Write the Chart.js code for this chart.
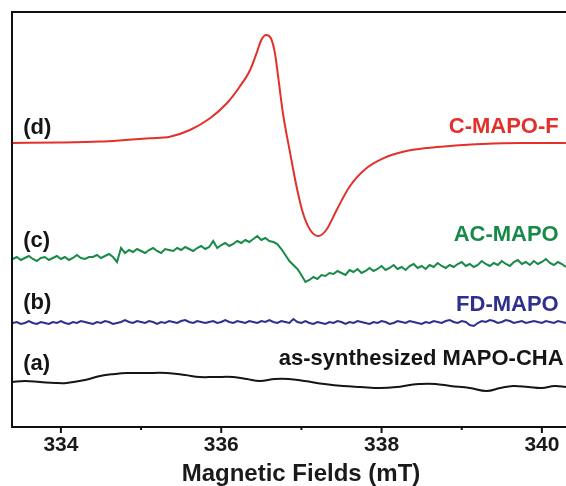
<!DOCTYPE html>
<html lang="en">
<head>
<meta charset="UTF-8">
<title>EPR spectra</title>
<script src="https://cdn.jsdelivr.net/npm/chart.js"></script>
<style>
  html, body { margin: 0; padding: 0; background: #fff; overflow: hidden; }
  canvas { display: block; }
</style>
</head>
<body>
<canvas id="epr" width="590" height="489" style="width:590px;height:489px"></canvas>
<script>
// field sweep (mT) shared by the two noisy spectra
const FIELD_MT = [
  333.40, 333.45, 333.50, 333.55, 333.60, 333.65, 333.70, 333.75, 333.80, 333.85,
  333.90, 333.95, 334.00, 334.05, 334.10, 334.15, 334.20, 334.25, 334.30, 334.35,
  334.40, 334.45, 334.50, 334.55, 334.60, 334.65, 334.70, 334.75, 334.80, 334.85,
  334.90, 334.95, 335.00, 335.05, 335.10, 335.15, 335.20, 335.25, 335.30, 335.35,
  335.40, 335.45, 335.50, 335.55, 335.60, 335.65, 335.70, 335.75, 335.80, 335.85,
  335.90, 335.95, 336.00, 336.05, 336.10, 336.15, 336.20, 336.25, 336.30, 336.35,
  336.40, 336.45, 336.50, 336.55, 336.60, 336.65, 336.70, 336.75, 336.80, 336.85,
  336.90, 336.95, 337.00, 337.05, 337.10, 337.15, 337.20, 337.25, 337.30, 337.35,
  337.40, 337.45, 337.50, 337.55, 337.60, 337.65, 337.70, 337.75, 337.80, 337.85,
  337.90, 337.95, 338.00, 338.05, 338.10, 338.15, 338.20, 338.25, 338.30, 338.35,
  338.40, 338.45, 338.50, 338.55, 338.60, 338.65, 338.70, 338.75, 338.80, 338.85,
  338.90, 338.95, 339.00, 339.05, 339.10, 339.15, 339.20, 339.25, 339.30, 339.35,
  339.40, 339.45, 339.50, 339.55, 339.60, 339.65, 339.70, 339.75, 339.80, 339.85,
  339.90, 339.95, 340.00, 340.05, 340.10, 340.15, 340.20, 340.25, 340.30
];

// (c) AC-MAPO, offset intensity (a.u.)
const AC_MAPO = [
  168, 170, 167, 169, 171, 168, 166, 169, 170, 167,
  169, 171, 168, 170, 167, 169, 172, 169, 168, 170,
  170, 172, 169, 171, 173, 170, 165, 179, 174, 177,
  175, 178, 176, 174, 177, 179, 176, 174, 178, 177,
  176, 179, 177, 180, 178, 176, 179, 181, 178, 180,
  186, 179, 182, 184, 181, 183, 186, 184, 187, 185,
  188, 191, 187, 189, 186, 185, 183, 178, 172, 166,
  162, 158, 152, 145, 147, 150, 148, 152, 151, 154,
  153, 156, 154, 152, 157, 155, 158, 154, 156, 159,
  156, 158, 161, 157, 159, 162, 158, 160, 157, 161,
  163, 159, 161, 158, 162, 160, 164, 161, 159, 162,
  160, 163, 165, 161, 163, 160, 162, 166, 163, 161,
  164, 162, 166, 163, 161, 165, 167, 163, 165, 162,
  166, 163, 165, 168, 164, 162, 165, 163, 160
];

// (b) FD-MAPO
const FD_MAPO = [
  104, 105, 103, 104, 106, 104, 103, 105, 104, 103,
  105, 104, 106, 104, 103, 105, 104, 106, 105, 104,
  103, 105, 104, 106, 105, 103, 104, 105, 107, 105,
  104, 106, 105, 104, 106, 105, 103, 105, 104, 106,
  105, 104, 106, 107, 105, 104, 106, 105, 104, 105,
  106, 104, 105, 107, 105, 104, 106, 105, 104, 106,
  105, 104, 106, 105, 107, 105, 104, 106, 105, 104,
  108, 105, 104, 106, 104, 103, 105, 104, 103, 105,
  104, 106, 105, 103, 105, 104, 106, 105, 104, 103,
  105, 104, 106, 105, 103, 104, 106, 105, 104, 106,
  105, 104, 103, 105, 104, 106, 105, 104, 106, 107,
  105, 104, 106, 105, 102, 101, 104, 106, 105, 107,
  106, 104, 105, 107, 106, 104, 105, 106, 104, 105,
  106, 105, 104, 106, 105, 104, 106, 105, 104
];

// (d) C-MAPO-F
const C_MAPO_F_FIELD = [
  333.39, 333.99, 334.49, 334.80, 335.11, 335.36, 335.61, 335.86, 336.07, 336.23,
  336.36, 336.44, 336.50, 336.56, 336.62, 336.67, 336.71, 336.77, 336.86, 336.94,
  337.02, 337.11, 337.21, 337.31, 337.44, 337.60, 337.81, 338.02, 338.27, 338.60,
  338.85, 339.26, 339.73, 340.30
];
const C_MAPO_F = [
  284, 284.5, 285.5, 287, 288.7, 290.3, 297, 308.7, 323.7, 340.3,
  357, 373.7, 387, 392, 388.7, 373.7, 350.3, 313.7, 273.7, 240.3,
  213.7, 197, 191, 197, 217, 240.3, 258.7, 268.7, 275.3, 279.3,
  281, 283, 284, 284
];

// (a) as-synthesized MAPO-CHA
const AS_SYN_FIELD = [
  333.39, 333.55, 333.74, 333.93, 334.07, 334.30, 334.49, 334.67, 334.82, 335.05,
  335.32, 335.55, 335.73, 335.92, 336.15, 336.32, 336.48, 336.67, 336.84, 337.04,
  337.29, 337.52, 337.74, 337.98, 338.19, 338.35, 338.47, 338.67, 338.86, 339.10,
  339.31, 339.48, 339.64, 339.83, 340.00, 340.16, 340.30
];
const AS_SYN = [
  45, 46, 45, 44, 44, 47, 51, 53, 54, 54,
  54, 52, 50, 50, 50, 48, 46, 48, 48, 46,
  43, 41, 40, 39, 40, 42, 43, 43, 41, 39,
  36, 39, 41, 40, 39, 41, 40
];

const FIELD_TICKS = [334, 335, 336, 337, 338, 339, 340];
const SAMPLE_TAGS = ['(a)', '(b)', '(c)', '(d)'];
const SAMPLE_NAMES = ['as-synthesized MAPO-CHA', 'FD-MAPO', 'AC-MAPO', 'C-MAPO-F'];
const COLORS = ['#151515', '#2e2f8e', '#178a48', '#e3302a'];

const pts = (xs, ys) => xs.map((x, i) => ({ x: x, y: ys[i] }));

// where the tags / names sit, in axis units
const TAG_Y = [63, 124, 186.5, 299.5];
const NAME_Y = [68, 122.5, 192.5, 300];

const FONT = '"Liberation Sans", Arial, sans-serif';
Chart.defaults.font.family = FONT;

// box around the plot, tick marks and the sample labels
const decor = {
  id: 'decor',
  afterDatasetsDraw(chart) {
    const { ctx, chartArea: a, scales: { x, y } } = chart;
    ctx.save();
    ctx.strokeStyle = '#111';
    ctx.lineWidth = 2;
    ctx.beginPath();
    ctx.moveTo(a.left, a.bottom);
    ctx.lineTo(a.left, a.top);
    ctx.lineTo(a.right, a.top);
    ctx.lineTo(a.right, a.bottom);
    ctx.lineTo(a.left - 1, a.bottom);
    FIELD_TICKS.forEach(v => {
      const px = x.getPixelForValue(v);
      ctx.moveTo(px, a.bottom);
      ctx.lineTo(px, a.bottom + (v % 2 === 0 ? 6 : 3));
    });
    ctx.stroke();

    ctx.font = 'bold 22px ' + FONT;
    ctx.textBaseline = 'middle';
    SAMPLE_TAGS.forEach((t, i) => {
      ctx.fillStyle = '#151515';
      ctx.textAlign = 'left';
      ctx.fillText(t, x.getPixelForValue(333.53), y.getPixelForValue(TAG_Y[i]));
      ctx.fillStyle = COLORS[i];
      ctx.textAlign = 'right';
      const xr = i === 0 ? 340.27 : 340.21;
      ctx.fillText(SAMPLE_NAMES[i], x.getPixelForValue(xr), y.getPixelForValue(NAME_Y[i]));
    });
    ctx.restore();
  }
};

new Chart(document.getElementById('epr'), {
  type: 'line',
  data: {
    datasets: [
      { label: SAMPLE_NAMES[0], data: pts(AS_SYN_FIELD, AS_SYN), borderColor: COLORS[0], tension: 0.4 },
      { label: SAMPLE_NAMES[1], data: pts(FIELD_MT, FD_MAPO), borderColor: COLORS[1], tension: 0 },
      { label: SAMPLE_NAMES[2], data: pts(FIELD_MT, AC_MAPO), borderColor: COLORS[2], tension: 0 },
      { label: SAMPLE_NAMES[3], data: pts(C_MAPO_F_FIELD, C_MAPO_F), borderColor: COLORS[3], cubicInterpolationMode: 'monotone' }
    ]
  },
  options: {
    responsive: false,
    animation: false,
    elements: {
      point: { radius: 0 },
      line: { borderWidth: 2, fill: false }
    },
    layout: { padding: { left: 12, top: 12, right: 0, bottom: 0 } },
    plugins: { legend: { display: false }, tooltip: { enabled: false } },
    scales: {
      x: {
        type: 'linear',
        min: 333.39,
        max: 340.60,
        afterBuildTicks: axis => { axis.ticks = FIELD_TICKS.map(v => ({ value: v })); },
        grid: { display: false, drawTicks: false },
        border: { display: false },
        ticks: {
          autoSkip: false,
          maxRotation: 0,
          padding: 6,
          color: '#1a1a1a',
          font: { size: 21, weight: 'bold' },
          callback: v => (v % 2 === 0 ? String(v) : '')
        },
        title: {
          display: true,
          text: 'Magnetic Fields (mT)',
          color: '#1a1a1a',
          font: { size: 24, weight: 'bold' },
          padding: { top: -4, bottom: 0 }
        }
      },
      y: {
        display: false,
        min: 0,
        max: 415
      }
    }
  },
  plugins: [decor]
});
</script>
</body>
</html>
